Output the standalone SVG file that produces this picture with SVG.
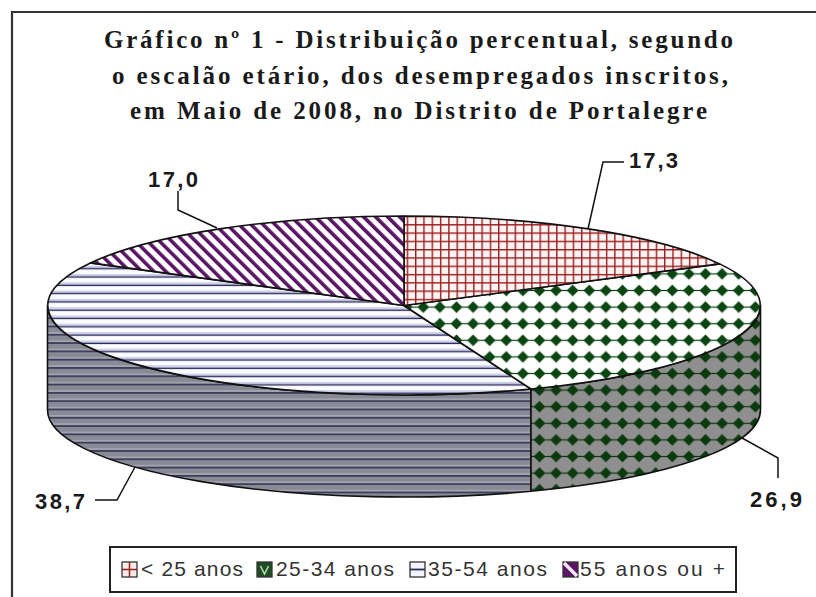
<svg xmlns="http://www.w3.org/2000/svg" width="816" height="597" viewBox="0 0 816 597">
<style>
.edge{stroke:#111;stroke-width:1.6;stroke-linejoin:round}
.lead{fill:none;stroke:#111;stroke-width:1.5}
.lbl{font-family:"Liberation Sans",Arial,sans-serif;font-weight:bold;font-size:22px;fill:#1a1a1a}
.title{font-family:"Liberation Serif","Times New Roman",serif;font-weight:bold;font-size:25px;fill:#1a1a1a}
.leg{font-family:"Liberation Sans",Arial,sans-serif;font-size:21px;fill:#333}
.sw{stroke:#333;stroke-width:1.3}
</style>
<defs>
<pattern id="pRed" patternUnits="userSpaceOnUse" width="8.3" height="8.3">
<rect width="8.3" height="8.3" fill="#fff3f3"/>
<rect width="1.4" height="8.3" fill="#9a1f1f"/>
<rect width="8.3" height="1.4" fill="#9a1f1f"/>
</pattern>
<pattern id="pGreenTop" patternUnits="userSpaceOnUse" width="16.6" height="16.6">
<rect width="16.6" height="16.6" fill="#ffffff"/>
<rect y="7.7" width="16.6" height="1.2" fill="#0b4512"/>
<polygon points="8.3,2.4 14.2,8.3 8.3,14.2 2.4,8.3" fill="#0b4512"/>
</pattern>
<pattern id="pGreenSide" patternUnits="userSpaceOnUse" width="16.6" height="16.6">
<rect width="16.6" height="16.6" fill="#8f8f8f"/>
<rect y="7.7" width="16.6" height="1.2" fill="#0a3a0e"/>
<polygon points="8.3,2.4 14.2,8.3 8.3,14.2 2.4,8.3" fill="#0a3a0e"/>
</pattern>
<pattern id="pBlueTop" patternUnits="userSpaceOnUse" width="8.3" height="8.3">
<rect width="8.3" height="8.3" fill="#fcfcff"/>
<rect width="8.3" height="2.4" fill="#d2d2ea"/>
<rect y="2.4" width="8.3" height="1.4" fill="#2a2a5c"/>
</pattern>
<pattern id="pBlueSide" patternUnits="userSpaceOnUse" width="8.3" height="8.3">
<rect width="8.3" height="8.3" fill="#8a8a97"/>
<rect width="8.3" height="2" fill="#a4a4b0"/>
<rect y="2" width="8.3" height="1.5" fill="#2e2e4c"/>
</pattern>
<pattern id="pPurple" patternUnits="userSpaceOnUse" width="8.5" height="8.5" patternTransform="rotate(-45)">
<rect width="8.5" height="8.5" fill="#ffffff"/>
<rect width="3.6" height="8.5" fill="#5a1565"/>
</pattern>
</defs>
<rect width="816" height="597" fill="#ffffff"/>
<g id="frame">
<path d="M12,597 L12,12 L816,12" fill="none" stroke="#333" stroke-width="2.2"/>
</g>
<g id="title">
<text class="title" x="104" y="48" textLength="629" lengthAdjust="spacing">Gráfico nº 1 - Distribuição percentual, segundo</text>
<text class="title" x="112" y="84" textLength="616" lengthAdjust="spacing">o escalão etário, dos desempregados inscritos,</text>
<text class="title" x="130" y="119" textLength="577" lengthAdjust="spacing">em Maio de 2008, no Distrito de Portalegre</text>
</g>
<g id="slice-35-54">
<path class="edge" fill="url(#pBlueSide)" d="M531,389 A356.5,89.5 0 0 1 47.5,305.5 L47.5,410 A356.5,87 0 0 0 531,491.3 Z"/>
<path class="edge" fill="url(#pBlueTop)" d="M404,305.5 L531,389 A356.5,89.5 0 0 1 90.4,262.9 Z"/>
</g>
<g id="slice-25-34">
<path class="edge" fill="url(#pGreenSide)" d="M760.5,305.5 A356.5,89.5 0 0 1 531,389 L531,491.3 A356.5,87 0 0 0 760.5,410 Z"/>
<path class="edge" fill="url(#pGreenTop)" d="M404,305.5 L719.6,263.9 A356.5,89.5 0 0 1 531,389 Z"/>
</g>
<g id="slice-lt25">
<path class="edge" fill="url(#pRed)" d="M404,305.5 L404,216 A356.5,89.5 0 0 1 719.6,263.9 Z"/>
</g>
<g id="slice-55plus">
<path class="edge" fill="url(#pPurple)" d="M404,305.5 L90.4,262.9 A356.5,89.5 0 0 1 404,216 Z"/>
</g>
<g id="connectors">
<path class="lead" d="M178,191 L178,210 L217,228"/>
<path class="lead" d="M624,162 L603,162 L588,229"/>
<path class="lead" d="M742,438 L778,458 L778,478"/>
<path class="lead" d="M95,500 L117,500 L135,467"/>
</g>
<g id="labels">
<text class="lbl" x="148" y="187" textLength="50" lengthAdjust="spacing">17,0</text>
<text class="lbl" x="629" y="168" textLength="49" lengthAdjust="spacing">17,3</text>
<text class="lbl" x="750" y="507" textLength="52" lengthAdjust="spacing">26,9</text>
<text class="lbl" x="35" y="509" textLength="50" lengthAdjust="spacing">38,7</text>
</g>
<g id="legend">
<rect x="110" y="547" width="626" height="45" fill="#ffffff" stroke="#222" stroke-width="2"/>
<g id="legend-lt25">
<rect class="sw" x="122" y="562" width="15" height="15" fill="#fbeaea"/>
<path d="M129.5,562 L129.5,577 M122,569.5 L137,569.5" stroke="#9a1f1f" stroke-width="1.5"/>
<text class="leg" x="141" y="576" textLength="102" lengthAdjust="spacing">&lt; 25 anos</text>
</g>
<g id="legend-25-34">
<rect class="sw" x="257" y="562" width="15" height="15" fill="#1f4d22"/>
<path d="M260.5,566 L264.5,574 L268.5,566" fill="none" stroke="#b8d8b8" stroke-width="1.6"/>
<text class="leg" x="276" y="576" textLength="118" lengthAdjust="spacing">25-34 anos</text>
</g>
<g id="legend-35-54">
<rect class="sw" x="410" y="562" width="15" height="15" fill="#f4f4fb"/>
<path d="M410,569.5 L425,569.5" stroke="#2a2a5c" stroke-width="1.8"/>
<text class="leg" x="428" y="576" textLength="119" lengthAdjust="spacing">35-54 anos</text>
</g>
<g id="legend-55plus">
<rect class="sw" x="563" y="562" width="15" height="15" fill="#5a1565"/>
<path d="M564,563 L577,576" stroke="#f4e8f6" stroke-width="3.5"/>
<text class="leg" x="580" y="576" textLength="145" lengthAdjust="spacing">55 anos ou +</text>
</g>
</g>
</svg>
